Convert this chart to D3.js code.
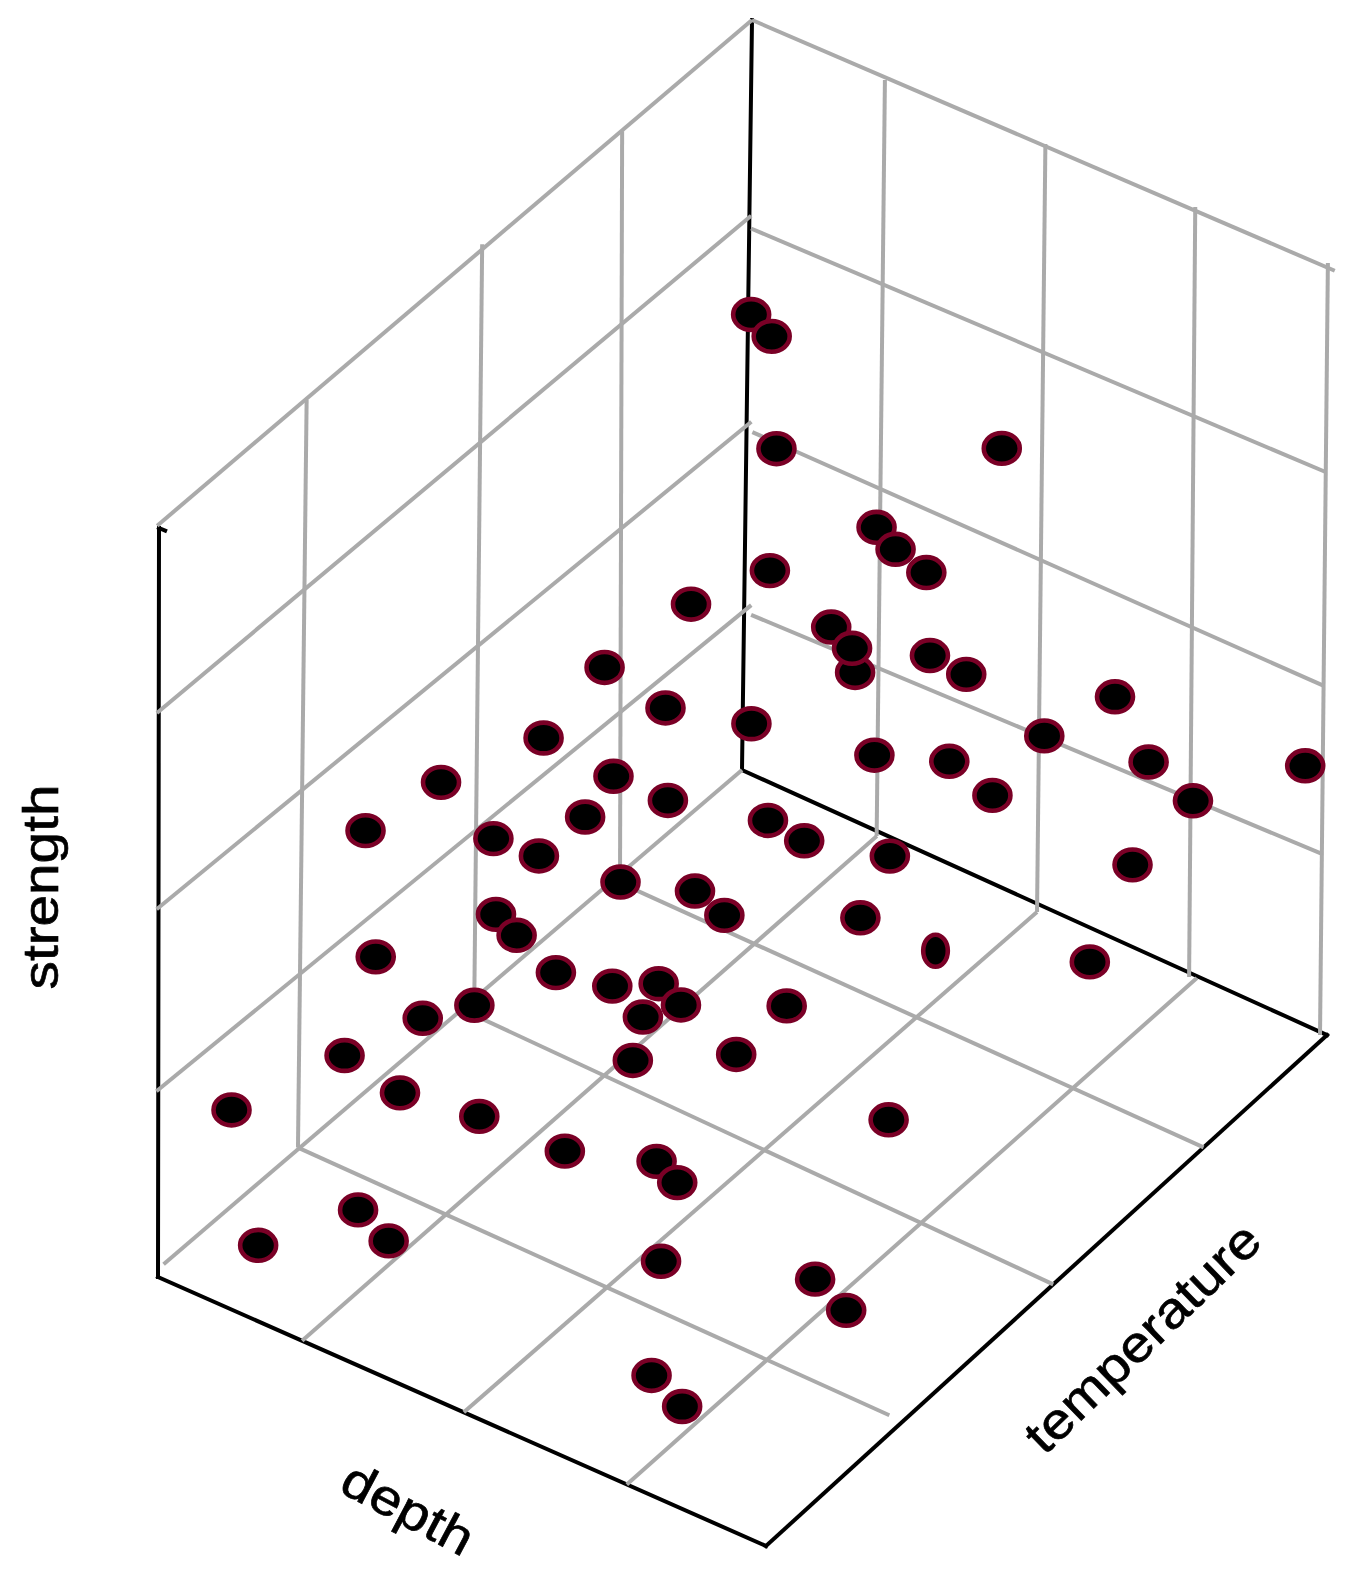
<!DOCTYPE html>
<html><head><meta charset="utf-8"><script src="https://cdn.jsdelivr.net/npm/d3@7"></script>
<style>html,body{margin:0;background:#fff}svg{display:block}text{font-family:"Liberation Sans",Arial,sans-serif;fill:#000;stroke:#000;stroke-width:.7px}</style></head>
<body><div id="chart"></div>
<script>
// Observations (percent of each axis range)
const depth=[21.9,26.1,34.4,65.8,53.9,57.9,63.4,41.6,37.0,53.8,59.4,57.9,66.7,69.4,36.3,41.6,48.5,31.8,81.6,75.6,61.6,68.0,85.1,98.8,71.5,88.4,23.2,37.8,42.2,17.2,36.0,53.1,56.9,27.6,32.0,62.8,82.9,38.7,47.2,52.6,64.4,28.0,30.1,70.4,79.8,18.2,33.5,42.4,48.2,52.4,47.8,26.7,21.7,66.2,63.8,49.3,15.9,6.6,20.1,31.8,78.7,45.6,58.9,62.9,20.8,27.1,9.6,66.2,84.6,88.2,70.9,78.1];
const temperature=[78.3,77.6,70.1,77.0,67.5,66.7,66.4,61.7,52.8,59.8,58.2,59.2,63.7,67.3,38.6,43.7,51.5,32.8,80.9,74.7,59.4,65.9,83.3,96.9,69.9,87.8,24.1,38.7,43.6,17.4,35.7,49.7,52.1,28.6,31.9,61.0,82.9,39.1,43.2,42.7,54.2,28.7,30.1,61.2,78.7,18.2,33.4,33.9,35.9,35.4,33.6,26.4,22.7,39.4,33.1,30.3,15.3,5.6,20.5,22.0,44.3,22.4,24.4,23.8,12.6,11.3,7.1,17.5,25.1,26.8,10.9,8.6];
const strength=[83,82,75,81,73,72,71,67,67,65,62,64,63,59,68,61,56,61,51,48,51,48,42,37,42,35,58,54,49,54,50,46,43,49,46,37,28,40,39,38,34,39,36,27,17,37,30,31,32,31,29,28,27,33,30,26,25,21,18,18,19,18,20,19,8,7,3,14,13,9,5,5];
const narrowObservations=[43];
const axisTitles=["depth","temperature","strength"];

// Unit-cube corners of the plot box on the page
const box={A:[158,1277],B:[766,1546],C:[1327,1035],D:[742,770],a:[159,528],b:[771,791],c:[1333,270],d:[752,20]};
const W=1348,H=1581;
const sx=d3.scaleLinear([0,100],[0,1]),sy=d3.scaleLinear([0,100],[0,1]),sz=d3.scaleLinear([0,100],[0,1]);
function project(d,t,s){
  const u=sx(d),v=sy(t),w=sz(s);
  const f=i=>{
    const bot=(1-u)*(1-v)*box.A[i]+u*(1-v)*box.B[i]+u*v*box.C[i]+(1-u)*v*box.D[i];
    const top=(1-u)*(1-v)*box.a[i]+u*(1-v)*box.b[i]+u*v*box.c[i]+(1-u)*v*box.d[i];
    return bot+(top-bot)*w;
  };
  return [f(0),f(1)];
}
// Grid segments and axes in data units: [depth,temperature,strength] start and end
const gridSegments=[
 [-1,2,0,0,100,0],[23.7,0,0,23.7,99.35,0],[50.3,0,0,51.5,98.9,0],[77.1,0,0,78,99.75,0],
 [-1,25,0,97.75,24.4,0],[1.6,52.5,0,100,51.2,0],[0.9,78.2,0,100,78,0],
 [-1,25,0,-0.2,25.1,100],[1.6,52.5,0,-0.9,55.4,100],[0.9,78.2,0,0,78.1,100],
 [23.66,99.35,0,23.25,99.63,100],[51.5,98.91,0,50.2,100.3,100],[77,99.41,0,75.8,100.5,100],[99.2,99.59,0,98.5,100.64,100],
 [-0.3,0,24.7,1.2,100,22.4],[-0.3,0,49,0.8,100,46.7],[-0.3,0,75.2,0.3,100,74],[-0.3,0,100.2,0,100,100],
 [1.2,100,21.1,99,100,23.3],[1,100,45.4,99,100,45.3],[0.3,100,72.3,99,100,73.26],[0,100,100,100.3,100,100]
];
const axisSegments=[[0,0,0,100,0,0],[100,0,0,100,100,0],[0,100,0,100,100,0],[0,0,0,0,0,100],[0,100,0,0,100,100],[0,0,100,1,0,100]];

const svg=d3.select("#chart").append("svg").attr("width",W).attr("height",H);
const seg=(g,data,cls,color,wd,cap)=>g.selectAll("line."+cls).data(data).join("line").attr("class",cls)
  .attr("x1",d=>project(d[0],d[1],d[2])[0]).attr("y1",d=>project(d[0],d[1],d[2])[1])
  .attr("x2",d=>project(d[3],d[4],d[5])[0]).attr("y2",d=>project(d[3],d[4],d[5])[1])
  .attr("stroke",color).attr("stroke-width",wd).attr("stroke-linecap",cap);
seg(svg.append("g"),axisSegments,"axis","#000",4,"square");
seg(svg.append("g"),gridSegments,"grid","#aaaaaa",4,"butt");

svg.append("g").attr("transform","translate(0.4,1)").selectAll("ellipse").data(depth.map((d,i)=>i)).join("ellipse")
  .attr("cx",i=>project(depth[i],temperature[i],strength[i])[0])
  .attr("cy",i=>project(depth[i],temperature[i],strength[i])[1])
  .attr("rx",i=>narrowObservations.includes(i)?12.3:18)
  .attr("ry",i=>narrowObservations.includes(i)?16:15.4)
  .attr("fill","#000").attr("stroke","#7a0026").attr("stroke-width",4.6);

const labels=[[400,1524,28],[1154.5,1350,-44],[58,887,-90]];
svg.append("g").selectAll("text").data(axisTitles).join("text")
  .attr("text-anchor","middle").attr("font-size",53)
  .attr("transform",(d,i)=>`translate(${labels[i][0]},${labels[i][1]}) rotate(${labels[i][2]}) scale(1.07,0.95)`)
  .text(d=>d);
</script></body></html>
